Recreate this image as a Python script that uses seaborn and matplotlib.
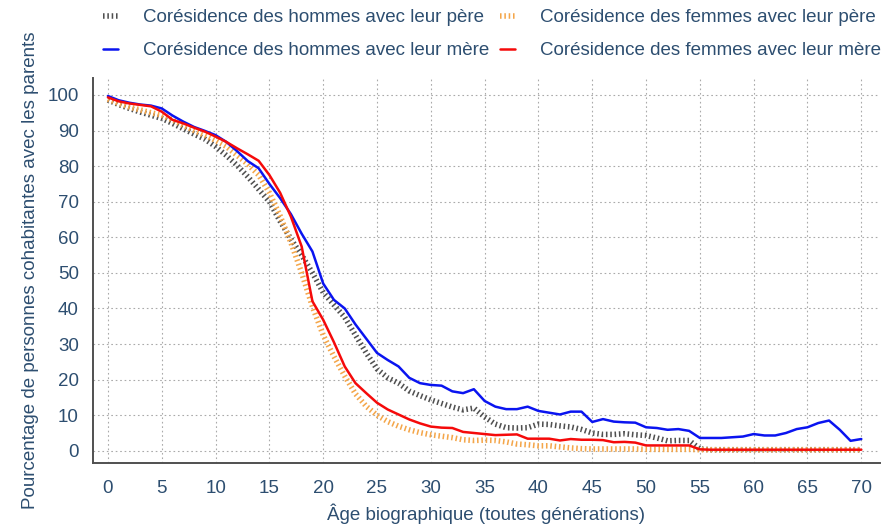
"""
Corésidence avec les parents selon l'âge biographique.
"""
import pandas as pd
import matplotlib.pyplot as plt
import seaborn as sns
import numpy as np

# --- Data ---
ages = list(range(0, 71))

hommes_pere = [98.6, 97.3, 96.2, 95.2, 94.3, 93.4, 92.0, 90.5, 89.0, 87.6,
               85.5, 83.0, 80.2, 77.0, 73.5, 70.0, 64.5, 59.5, 55.0, 50.0,
               44.5, 41.0, 37.5, 32.5, 27.5, 23.0, 20.5, 19.0, 16.8, 15.5,
               14.3, 13.3, 12.3, 11.5, 12.0, 9.5, 7.5, 6.5, 6.4, 6.5,
               7.5, 7.4, 7.0, 6.7, 6.0, 5.0, 4.6, 4.6, 4.8, 4.5,
               4.3, 3.6, 2.8, 2.9, 2.9, 0.5, 0.3, 0.3, 0.3, 0.3,
               0.3, 0.3, 0.3, 0.3, 0.3, 0.3, 0.3, 0.3, 0.3, 0.3, 0.3]

femmes_pere = [98.8, 97.6, 96.6, 95.8, 95.0, 94.3, 93.0, 91.5, 90.0, 88.7,
               87.2, 85.5, 83.0, 80.5, 77.5, 72.5, 66.0, 58.5, 50.0, 40.5,
               32.5, 26.5, 21.0, 16.0, 12.5, 10.0, 8.2, 6.9, 5.9, 5.1,
               4.5, 4.1, 3.7, 3.1, 2.9, 3.0, 2.9, 2.5, 1.9, 1.7,
               1.4, 1.4, 1.1, 0.8, 0.6, 0.5, 0.5, 0.5, 0.5, 0.5,
               0.4, 0.4, 0.4, 0.4, 0.4, 0.3, 0.3, 0.3, 0.3, 0.3,
               0.3, 0.3, 0.3, 0.3, 0.3, 0.3, 0.3, 0.3, 0.3, 0.3, 0.3]

hommes_mere = [99.7, 98.5, 97.8, 97.3, 97.0, 96.2, 94.2, 92.5, 91.0, 89.9,
               88.7, 86.8, 84.2, 81.4, 79.4, 75.0, 71.0, 66.5, 61.0, 56.0,
               47.0, 42.4, 40.0, 35.5, 31.5, 27.5, 25.5, 23.7, 20.5, 19.0,
               18.5, 18.3, 16.7, 16.2, 17.3, 14.0, 12.4, 11.7, 11.7, 12.4,
               11.2, 10.7, 10.2, 11.0, 11.0, 8.1, 8.9, 8.2, 8.0, 7.9,
               6.6, 6.4, 5.9, 6.1, 5.6, 3.6, 3.6, 3.6, 3.8, 4.0,
               4.7, 4.3, 4.3, 5.0, 6.1, 6.6, 7.8, 8.5, 5.9, 2.8, 3.3]

femmes_mere = [99.3, 98.2, 97.6, 97.2, 96.8, 95.3, 93.0, 92.0, 90.8, 89.7,
               88.3, 86.8, 85.0, 83.3, 81.5, 77.5, 72.5, 65.8, 57.4, 42.0,
               36.8, 30.5, 23.7, 19.0, 16.2, 13.5, 11.6, 10.2, 8.8, 7.7,
               6.8, 6.5, 6.4, 5.3, 5.0, 4.7, 4.4, 4.5, 4.6, 3.4,
               3.4, 3.4, 2.9, 3.3, 3.1, 3.1, 3.0, 2.4, 2.5, 2.3,
               1.5, 1.5, 1.5, 1.5, 1.5, 0.4, 0.3, 0.3, 0.3, 0.3,
               0.3, 0.3, 0.3, 0.3, 0.3, 0.3, 0.3, 0.3, 0.3, 0.3, 0.3]

labels = ["Corésidence des hommes avec leur père",
          "Corésidence des femmes avec leur père",
          "Corésidence des hommes avec leur mère",
          "Corésidence des femmes avec leur mère"]

# --- Styling ---
sns.set_theme(style="white")
plt.rcParams["font.family"] = ["Liberation Sans", "DejaVu Sans"]
TXT = "#2d4e70"
GRAY = "#505050"
ORANGE = "#f4a64a"
BLUE = "#0a14f0"
RED = "#f50a0a"
FS = 13.5

fig, ax = plt.subplots(figsize=(8.93, 5.26), dpi=100)
fig.subplots_adjust(left=0.104, right=0.985, bottom=0.12, top=0.852)

hatch = (0, (0.28, 0.5))
sns.lineplot(x=ages, y=hommes_pere, ax=ax, color=GRAY, lw=4.0,
             linestyle=hatch, dash_capstyle="butt", label=labels[0], zorder=3)
sns.lineplot(x=ages, y=femmes_pere, ax=ax, color=ORANGE, lw=4.0,
             linestyle=hatch, dash_capstyle="butt", label=labels[1], zorder=3)
sns.lineplot(x=ages, y=hommes_mere, ax=ax, color=BLUE, lw=1.8,
             label=labels[2], zorder=4)
sns.lineplot(x=ages, y=femmes_mere, ax=ax, color=RED, lw=1.8,
             label=labels[3], zorder=5)

ax.set_xlim(-1.4, 71.7)
ax.set_ylim(-3.4, 104.8)
ax.set_xticks(range(0, 71, 5))
ax.set_yticks(range(0, 101, 10))
ax.grid(True, linestyle=(0, (1.5, 2.5)), color="#aaaaaa", lw=0.8)
ax.tick_params(axis="x", length=0, labelsize=FS, labelcolor=TXT, pad=12)
ax.tick_params(axis="y", length=0, labelsize=FS, labelcolor=TXT, pad=10)
for s in ["top", "right"]:
    ax.spines[s].set_visible(False)
for s in ["left", "bottom"]:
    ax.spines[s].set_color(GRAY)
    ax.spines[s].set_linewidth(1.4)

ax.set_xlabel("Âge biographique (toutes générations)", fontsize=FS, color=TXT, labelpad=5)
ax.set_ylabel("Pourcentage de personnes cohabitantes avec les parents", fontsize=FS,
              color=TXT, labelpad=6)

handles, lbls = ax.get_legend_handles_labels()
ax.get_legend().remove()
order = [0, 2, 1, 3]
leg = fig.legend([handles[i] for i in order], [lbls[i] for i in order],
                 ncol=2, loc="upper center", bbox_to_anchor=(0.551, 1.015),
                 frameon=False, fontsize=FS, handlelength=0.8, handletextpad=1.33,
                 columnspacing=0.6, labelspacing=0.85)
for t in leg.get_texts():
    t.set_color(TXT)

fig.savefig("out.png", dpi=100)
